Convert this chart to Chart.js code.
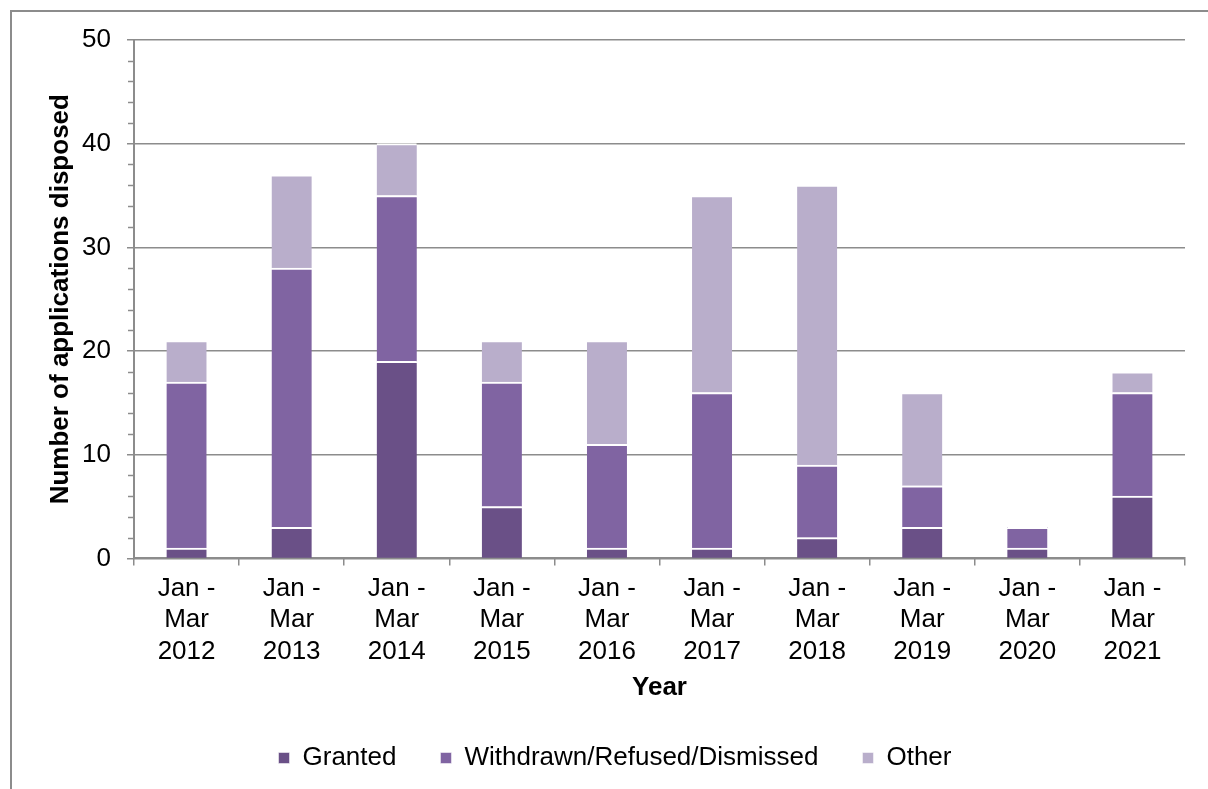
<!DOCTYPE html>
<html>
<head>
<meta charset="utf-8">
<script src="https://cdn.jsdelivr.net/npm/chart.js@4.4.1/dist/chart.umd.min.js"></script>
<style>
  html, body { margin: 0; padding: 0; background: #fff; }
  #frame {
    position: absolute; left: 10px; top: 10px; width: 1210px; height: 800px;
    border-left: 2px solid #8c8c8c; border-top: 2px solid #8c8c8c;
  }
  #wrap { position: absolute; left: 0; top: 0; width: 1208px; height: 789px; }
</style>
</head>
<body>
<div id="frame"></div>
<div id="wrap"><canvas id="chart"></canvas></div>
<script>
// --- data ---
const years = [
  ['Jan -', 'Mar', '2012'], ['Jan -', 'Mar', '2013'], ['Jan -', 'Mar', '2014'],
  ['Jan -', 'Mar', '2015'], ['Jan -', 'Mar', '2016'], ['Jan -', 'Mar', '2017'],
  ['Jan -', 'Mar', '2018'], ['Jan -', 'Mar', '2019'], ['Jan -', 'Mar', '2020'],
  ['Jan -', 'Mar', '2021']
];
const granted   = [1, 3, 19, 5, 1, 1, 2, 3, 1, 6];
const withdrawn = [16, 25, 16, 12, 10, 15, 7, 4, 2, 10];
const other     = [4, 9, 5, 4, 10, 19, 27, 9, 0, 2];

const gridGrey = '#8c8c8c';
const font = 'Liberation Sans, Arial, sans-serif';

// small ticks every 2 units on the y axis
const minorTicks = {
  id: 'minorTicks',
  afterDraw(chart) {
    const y = chart.scales.y;
    const ctx = chart.ctx;
    ctx.save();
    ctx.strokeStyle = gridGrey;
    ctx.lineWidth = 1.5;
    for (let v = 0; v <= 50; v += 2) {
      if (v % 10 === 0) continue;
      const py = Math.round(y.getPixelForValue(v)) + 0.5;
      ctx.beginPath();
      ctx.moveTo(y.right - 6, py);
      ctx.lineTo(y.right, py);
      ctx.stroke();
    }
    ctx.restore();
  }
};

function ds(label, data, color) {
  return {
    label: label,
    data: data,
    backgroundColor: color,
    borderColor: '#ffffff',
    borderWidth: { top: 2 },
    borderSkipped: 'bottom',
    barThickness: 40
  };
}

new Chart(document.getElementById('chart'), {
  type: 'bar',
  data: {
    labels: years,
    datasets: [
      ds('Granted', granted, '#6a5087'),
      ds('Withdrawn/Refused/Dismissed', withdrawn, '#8064a2'),
      ds('Other', other, '#b9aecb')
    ]
  },
  options: {
    responsive: true,
    maintainAspectRatio: false,
    animation: false,
    layout: { padding: { top: 40, right: 23, left: 45, bottom: 8 } },
    plugins: {
      tooltip: { enabled: false },
      legend: {
        position: 'bottom',
        labels: {
          color: '#000',
          font: { family: font, size: 26 },
          boxWidth: 11,
          boxHeight: 11,
          padding: 44
        }
      }
    },
    scales: {
      x: {
        stacked: true,
        grid: {
          offset: true,
          drawOnChartArea: false,
          drawTicks: true,
          tickLength: 7,
          color: gridGrey,
          lineWidth: 1.5
        },
        border: { color: gridGrey, width: 2 },
        ticks: {
          color: '#000',
          font: { family: font, size: 26, lineHeight: 1.2 },
          maxRotation: 0,
          padding: 8
        },
        title: {
          display: true,
          text: 'Year',
          color: '#000',
          font: { family: font, size: 26, weight: 'bold', lineHeight: 1.0 },
          padding: { top: 0, bottom: 0 }
        }
      },
      y: {
        stacked: true,
        min: 0,
        max: 50,
        afterFit(scale) { scale.width = 89; },
        grid: {
          color: gridGrey,
          lineWidth: 1.5,
          tickLength: 7
        },
        border: { color: gridGrey, width: 2 },
        ticks: {
          stepSize: 10,
          color: '#000',
          font: { family: font, size: 26 },
          padding: 16
        },
        title: {
          display: true,
          text: 'Number of applications disposed',
          color: '#000',
          font: { family: font, size: 26, weight: 'bold', lineHeight: 1.2 },
          padding: 0
        }
      }
    }
  },
  plugins: [minorTicks]
});
</script>
</body>
</html>
